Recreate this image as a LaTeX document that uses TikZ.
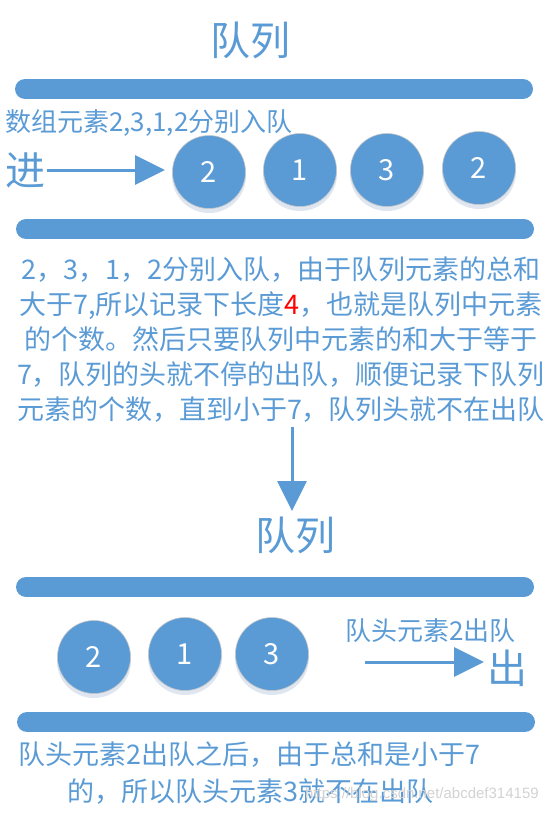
\documentclass[tikz,border=0pt]{standalone}
\usepackage{fontspec}
\newfontfamily\cjk{Noto Sans CJK SC}
\newfontfamily\wmfont{Liberation Sans}
\usetikzlibrary{arrows.meta}
\definecolor{qblue}{HTML}{5B9BD5}
\definecolor{qshadow}{HTML}{C9D6E6}
\tikzset{
  bar/.style={line width=20pt, line cap=round, qblue},
  ball/.style={circle, fill=qblue, draw=gray!45, line width=0.6pt, minimum size=73pt, inner sep=0pt, text=white, font=\cjk\fontsize{29}{29}\selectfont},
  ballshadow/.style={circle, fill=qshadow, opacity=0.6, minimum size=74pt, inner sep=0pt},
  title/.style={text=qblue, font=\cjk\fontsize{40}{40}\selectfont, inner sep=0pt},
  big/.style={text=qblue, font=\cjk\fontsize{40}{40}\selectfont, inner sep=0pt},
  body/.style={text=qblue, font=\cjk\fontsize{27}{35}\selectfont, inner sep=0pt},
  small/.style={text=qblue, font=\cjk\fontsize{26}{26}\selectfont, inner sep=0pt},
  flow/.style={qblue, line width=3pt, -{Triangle[length=30pt,width=29pt]}},
}
\begin{document}
\begin{tikzpicture}[x=1pt,y=-1pt]
\useasboundingbox (0,0) rectangle (559,815);
% top title
\node[title] (t1) at (250,40) {队列};
% bars
\draw[bar] (25,89) -- (523,89);
\draw[bar] (26,229) -- (524,229);
% label
\node[small, anchor=west] (lab1) at (5,123) {数组元素2,3,1,2分别入队};
\node[big, anchor=west] (jin) at (5,170) {进};
% balls with shadows
\foreach \x/\y in {209/172,300/170,387/170,479/168}{
  \node[ballshadow] at (\x,\y+4) {};
}
\node[ball] (b1) at (209,172) {2};
\node[ball] (b2) at (300,170) {1};
\node[ball] (b3) at (387,170) {3};
\node[ball] (b4) at (479,168) {2};
\draw[flow] (jin.east) ++(2,0) coordinate (ja) -- (ja -| 165,0);
% paragraph
\node[body, align=center] (p) at (281,340) {2，3，1，2分别入队，由于队列元素的总和\\大于7,所以记录下长度{\color{red}4}，也就是队列中元素\\的个数。然后只要队列中元素的和大于等于\\7，队列的头就不停的出队，顺便记录下队列\\元素的个数，直到小于7，队列头就不在出队};
% down arrow
\coordinate (d1) at (292,427);
\node[title] (t2) at (295,535) {队列};
\draw[flow] (d1) -- (292,511);
% bars 2
\draw[bar] (26,587) -- (524,587);
\draw[bar] (27,722) -- (525,722);
\foreach \x/\y in {94/657,185/654,272/654}{
  \node[ballshadow] at (\x,\y+4) {};
}
\node[ball] (c1) at (94,657) {2};
\node[ball] (c2) at (185,654) {1};
\node[ball] (c3) at (272,654) {3};
\node[small, anchor=west] (lab2) at (345,631) {队头元素2出队};
\node[big, anchor=west] (chu) at (487,668) {出};
\coordinate (o1) at (365,662);
\draw[flow] (o1) -- (484,662);
% bottom text
\node[body, anchor=west] (q1) at (18,755) {队头元素2出队之后，由于总和是小于7};
\node[body, anchor=west] (q2) at (67,792) {的，所以队头元素3就不在出队};
\node[anchor=west, text=gray!35, font=\wmfont\fontsize{15}{15}\selectfont, inner sep=0pt] (wm) at (305,795) {https://blog.csdn.net/abcdef314159};
\end{tikzpicture}
\end{document}
